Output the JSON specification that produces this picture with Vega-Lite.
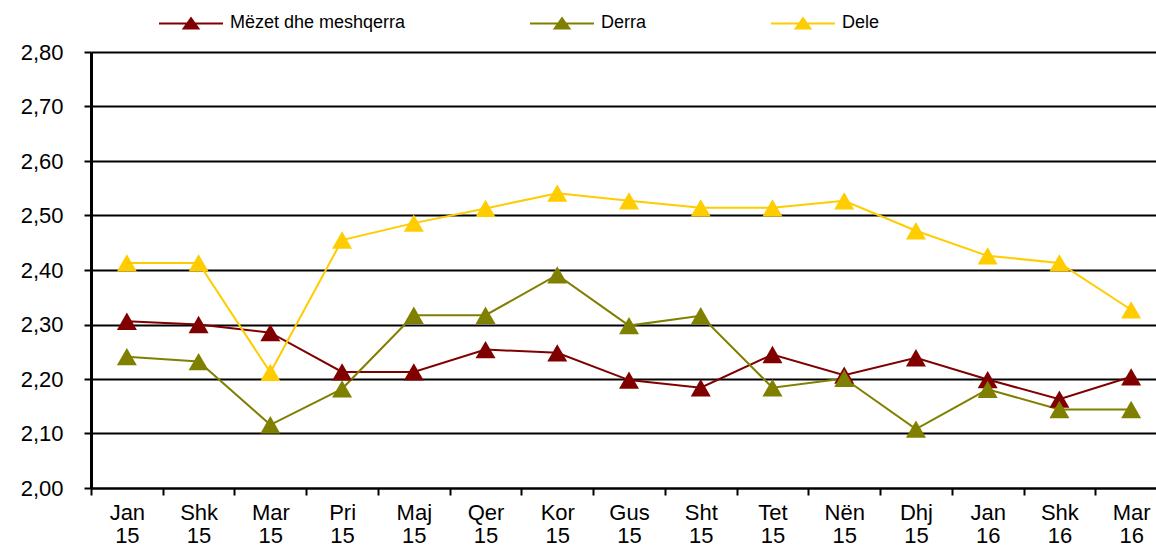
{
  "$schema": "https://vega.github.io/schema/vega-lite/v6.json",
  "width": 1065,
  "height": 436,
  "autosize": {"type": "none"},
  "padding": {"left": 91, "top": 52, "right": 0, "bottom": 58},
  "background": "white",
  "config": {"view": {"stroke": null}, "font": "Liberation Sans"},
  "data": {
    "values": [
      {"month": "Jan 15", "series": "Mëzet dhe meshqerra", "value": 2.306},
      {"month": "Shk 15", "series": "Mëzet dhe meshqerra", "value": 2.300},
      {"month": "Mar 15", "series": "Mëzet dhe meshqerra", "value": 2.285},
      {"month": "Pri 15", "series": "Mëzet dhe meshqerra", "value": 2.213},
      {"month": "Maj 15", "series": "Mëzet dhe meshqerra", "value": 2.213},
      {"month": "Qer 15", "series": "Mëzet dhe meshqerra", "value": 2.254},
      {"month": "Kor 15", "series": "Mëzet dhe meshqerra", "value": 2.248},
      {"month": "Gus 15", "series": "Mëzet dhe meshqerra", "value": 2.198},
      {"month": "Sht 15", "series": "Mëzet dhe meshqerra", "value": 2.184},
      {"month": "Tet 15", "series": "Mëzet dhe meshqerra", "value": 2.245},
      {"month": "Nën 15", "series": "Mëzet dhe meshqerra", "value": 2.207},
      {"month": "Dhj 15", "series": "Mëzet dhe meshqerra", "value": 2.239},
      {"month": "Jan 16", "series": "Mëzet dhe meshqerra", "value": 2.199},
      {"month": "Shk 16", "series": "Mëzet dhe meshqerra", "value": 2.163},
      {"month": "Mar 16", "series": "Mëzet dhe meshqerra", "value": 2.204},
      {"month": "Jan 15", "series": "Derra", "value": 2.241},
      {"month": "Shk 15", "series": "Derra", "value": 2.232},
      {"month": "Mar 15", "series": "Derra", "value": 2.116},
      {"month": "Pri 15", "series": "Derra", "value": 2.182},
      {"month": "Maj 15", "series": "Derra", "value": 2.317},
      {"month": "Qer 15", "series": "Derra", "value": 2.317},
      {"month": "Kor 15", "series": "Derra", "value": 2.391},
      {"month": "Gus 15", "series": "Derra", "value": 2.298},
      {"month": "Sht 15", "series": "Derra", "value": 2.316},
      {"month": "Tet 15", "series": "Derra", "value": 2.184},
      {"month": "Nën 15", "series": "Derra", "value": 2.201},
      {"month": "Dhj 15", "series": "Derra", "value": 2.108},
      {"month": "Jan 16", "series": "Derra", "value": 2.181},
      {"month": "Shk 16", "series": "Derra", "value": 2.144},
      {"month": "Mar 16", "series": "Derra", "value": 2.144},
      {"month": "Jan 15", "series": "Dele", "value": 2.413},
      {"month": "Shk 15", "series": "Dele", "value": 2.413},
      {"month": "Mar 15", "series": "Dele", "value": 2.212},
      {"month": "Pri 15", "series": "Dele", "value": 2.455},
      {"month": "Maj 15", "series": "Dele", "value": 2.486},
      {"month": "Qer 15", "series": "Dele", "value": 2.513},
      {"month": "Kor 15", "series": "Dele", "value": 2.541},
      {"month": "Gus 15", "series": "Dele", "value": 2.527},
      {"month": "Sht 15", "series": "Dele", "value": 2.514},
      {"month": "Tet 15", "series": "Dele", "value": 2.514},
      {"month": "Nën 15", "series": "Dele", "value": 2.527},
      {"month": "Dhj 15", "series": "Dele", "value": 2.472},
      {"month": "Jan 16", "series": "Dele", "value": 2.426},
      {"month": "Shk 16", "series": "Dele", "value": 2.413},
      {"month": "Mar 16", "series": "Dele", "value": 2.327}
    ]
  },
  "encoding": {
    "x": {
      "field": "month",
      "type": "nominal",
      "sort": null,
      "bandPosition": 0.5,
      "scale": {"type": "band", "paddingInner": 0, "paddingOuter": 0, "range": [0, 1076]},
      "axis": {
        "title": null,
        "grid": false,
        "labelAngle": 0,
        "labelExpr": "split(datum.label, ' ')",
        "labelFontSize": 22,
        "labelColor": "black",
        "labelLineHeight": 23,
        "labelPadding": 7,
        "tickBand": "extent",
        "tickSize": 7,
        "tickWidth": 2,
        "tickColor": "black",
        "domainColor": "black",
        "domainWidth": 2
      }
    },
    "y": {
      "field": "value",
      "type": "quantitative",
      "scale": {"domain": [2, 2.8], "nice": false, "zero": false},
      "axis": {
        "title": null,
        "values": [2, 2.1, 2.2, 2.3, 2.4, 2.5, 2.6, 2.7, 2.8],
        "labelExpr": "replace(format(datum.value, '.2f'), '.', ',')",
        "labelFontSize": 22,
        "labelColor": "black",
        "labelPadding": 21,
        "tickSize": 7,
        "tickWidth": 2,
        "tickColor": "black",
        "domainColor": "black",
        "domainWidth": 3,
        "grid": true,
        "gridColor": "black",
        "gridWidth": 2,
        "gridOpacity": 1
      }
    },
    "color": {
      "field": "series",
      "type": "nominal",
      "sort": null,
      "scale": {
        "domain": ["Mëzet dhe meshqerra", "Derra", "Dele"],
        "range": ["#800000", "#808000", "#FFCC00"]
      },
      "legend": {
        "title": null,
        "orient": "none",
        "legendX": 67,
        "legendY": -62,
        "direction": "horizontal",
        "columns": 3,
        "columnPadding": 120,
        "symbolType": "M-1,0H1M-0.23,0.16L0,-0.16L0.23,0.16Z",
        "symbolSize": 4096,
        "symbolStrokeWidth": 2,
        "labelFontSize": 18,
        "labelLimit": 400,
        "labelColor": "black",
        "labelOffset": 6
      }
    }
  },
  "layer": [
    {"mark": {"type": "line", "strokeWidth": 2}},
    {"mark": {"type": "point", "shape": "triangle-up", "filled": true, "size": 400, "opacity": 1}}
  ]
}
